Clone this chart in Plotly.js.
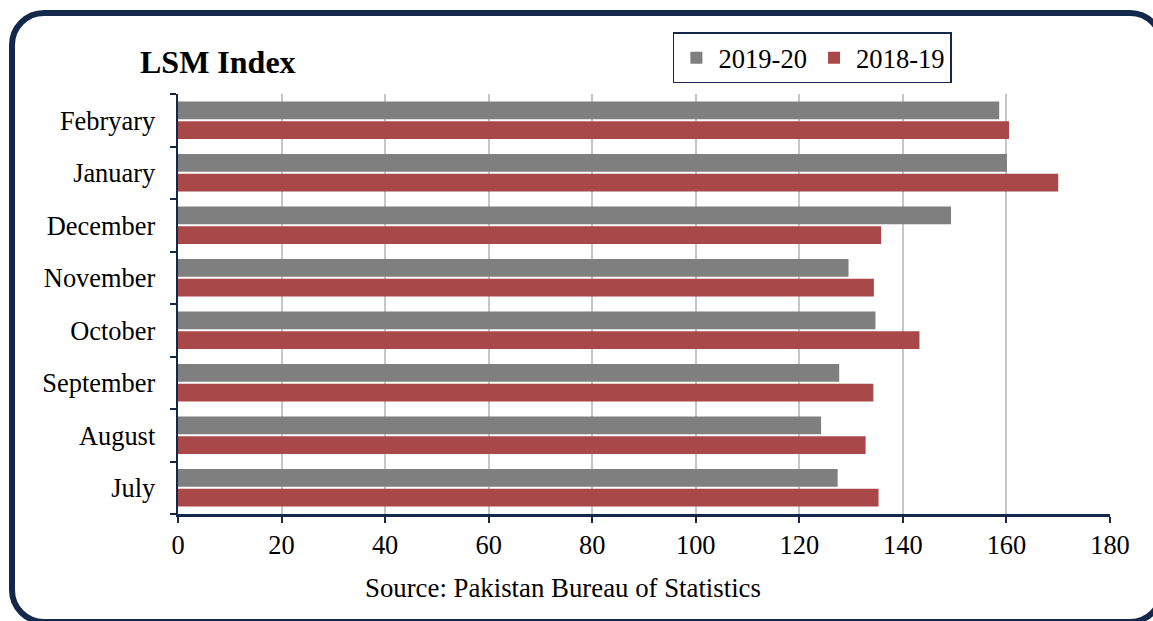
<!DOCTYPE html>
<html>
<head>
<meta charset="utf-8">
<script src="https://cdn.plot.ly/plotly-3.0.1.min.js"></script>
<style>
  html, body { margin: 0; padding: 0; background: #ffffff; overflow: hidden; }
  #chart { position: absolute; left: 0; top: 0; width: 1153px; height: 621px; }
  #frame { position: absolute; left: 9px; top: 10px; width: 1156px; height: 615px;
           box-sizing: border-box; border: 6px solid #13284a; border-radius: 35px;
           pointer-events: none; }
</style>
</head>
<body>
<div id="chart"></div>
<div id="frame"></div>
<script>
// Data
const months = ['July', 'August', 'September', 'October', 'November', 'December', 'January', 'Febryary'];
const values2019_20 = [127.4, 124.2, 127.7, 134.7, 129.5, 149.3, 160.1, 158.6];
const values2018_19 = [135.3, 132.8, 134.3, 143.2, 134.4, 135.8, 170.0, 160.5];
const xTicks = [0, 20, 40, 60, 80, 100, 120, 140, 160, 180];
const seriesNames = ['2019-20', '2018-19'];

const serif = 'Liberation Serif, Times New Roman, serif';
const navy = '#13284a';

const traces = [
  {
    type: 'bar', orientation: 'h', name: seriesNames[1],
    y: months, x: values2018_19,
    marker: { color: '#a84848' },
    hoverinfo: 'x+name'
  },
  {
    type: 'bar', orientation: 'h', name: seriesNames[0],
    y: months, x: values2019_20,
    marker: { color: '#7f7f7f' },
    hoverinfo: 'x+name'
  }
];

const layout = {
  width: 1153, height: 621,
  margin: { l: 178, r: 43, t: 94, b: 107, autoexpand: false },
  paper_bgcolor: 'rgba(0,0,0,0)',
  plot_bgcolor: 'rgba(0,0,0,0)',
  barmode: 'group',
  bargap: 0.25,
  bargroupgap: 0.1,
  font: { family: serif, color: '#000000', size: 26 },
  title: {
    text: '<b>LSM Index</b>',
    font: { family: serif, size: 32, color: '#000000' },
    xref: 'container', yref: 'container',
    x: 140 / 1153, xanchor: 'left',
    y: 1 - 62 / 621, yanchor: 'middle'
  },
  showlegend: true,
  legend: {
    orientation: 'h',
    traceorder: 'reversed',
    x: 0.531, xanchor: 'left',
    y: 1.086, yanchor: 'middle',
    bordercolor: navy, borderwidth: 1.5,
    bgcolor: '#ffffff',
    font: { family: serif, size: 26.6, color: '#000000' },
    itemwidth: 34
  },
  xaxis: {
    range: [0, 180],
    tickmode: 'array', tickvals: xTicks, ticktext: xTicks.map(String),
    showgrid: true, gridcolor: '#c6c6c6', gridwidth: 2,
    zeroline: false,
    showline: true, linecolor: navy, linewidth: 2.5,
    ticks: 'outside', ticklen: 6, tickwidth: 2, tickcolor: navy,
    tickfont: { family: serif, size: 26.4, color: '#000000' },
    fixedrange: true
  },
  yaxis: {
    type: 'category',
    categoryorder: 'array', categoryarray: months,
    showgrid: false, zeroline: false,
    showline: true, linecolor: navy, linewidth: 2.5,
    ticks: 'outside', ticklen: 6, tickwidth: 2, tickcolor: navy,
    tickson: 'boundaries',
    ticklabelstandoff: 15,
    tickfont: { family: serif, size: 26.4, color: '#000000' },
    fixedrange: true
  },
  annotations: [
    {
      text: 'Source: Pakistan Bureau of Statistics',
      xref: 'paper', yref: 'paper',
      x: 0.413, y: -0.176, xanchor: 'center', yanchor: 'middle',
      showarrow: false,
      font: { family: serif, size: 26.8, color: '#000000' }
    }
  ]
};

Plotly.newPlot('chart', traces, layout, { displayModeBar: false, staticPlot: true });
</script>
</body>
</html>
